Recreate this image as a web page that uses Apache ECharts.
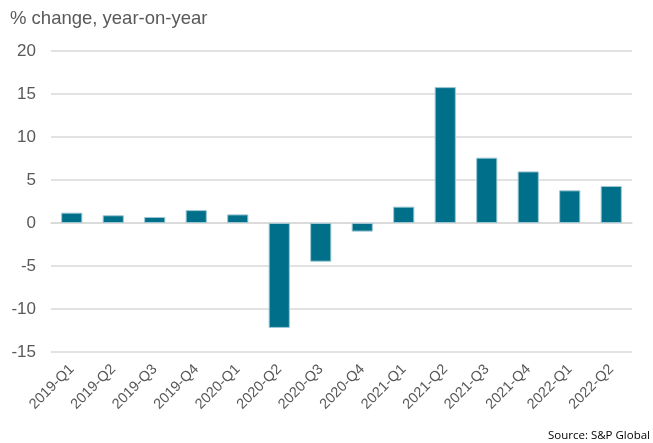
<!DOCTYPE html>
<html>
<head>
<meta charset="utf-8">
<script src="https://cdn.jsdelivr.net/npm/echarts@6/dist/echarts.min.js"></script>
<style>html,body{margin:0;padding:0;background:#fff}#c{width:653px;height:443px}</style>
</head>
<body>
<div id="c"></div>
<script>
const categories = ['2019-Q1','2019-Q2','2019-Q3','2019-Q4','2020-Q1','2020-Q2','2020-Q3','2020-Q4','2021-Q1','2021-Q2','2021-Q3','2021-Q4','2022-Q1','2022-Q2'];
const values = [1.2, 0.9, 0.7, 1.5, 1.0, -12.2, -4.5, -1.0, 1.9, 15.8, 7.6, 6.0, 3.8, 4.3];
const yTitle = '% change, year-on-year';
const source = 'Source: S&P Global';

const chart = echarts.init(document.getElementById('c'));
chart.setOption({
  animation: false,
  backgroundColor: '#fff',
  grid: { left: 51, right: 21, top: 51, bottom: 91, containLabel: false },
  graphic: [
    { type: 'text', left: 10, top: 9, style: { text: yTitle, font: '18.5px "Liberation Sans", Arial, sans-serif', fill: '#595959' } },
    { type: 'text', right: 3, top: 430, style: { text: source, font: '11.5px "Open Sans", sans-serif', fill: '#000' } }
  ],
  xAxis: {
    type: 'category',
    data: categories,
    axisLine: { onZero: true, lineStyle: { color: '#d9d9d9', width: 1.5 } },
    axisTick: { show: false },
    axisLabel: { interval: 0, rotate: 45, color: '#595959', fontSize: 14.5, fontFamily: '"Liberation Sans", Arial, sans-serif', margin: 15 }
  },
  yAxis: {
    type: 'value',
    min: -15, max: 20, interval: 5,
    axisLine: { show: false },
    axisTick: { show: false },
    splitLine: { lineStyle: { color: '#d9d9d9', width: 1.5 } },
    axisLabel: { color: '#595959', fontSize: 17, fontFamily: '"Liberation Sans", Arial, sans-serif', margin: 15 }
  },
  series: [{
    type: 'bar',
    data: values,
    barWidth: '51%',
    itemStyle: { color: '#006f89', borderColor: '#9cc7d3', borderWidth: 1 }
  }]
});
</script>
</body>
</html>
